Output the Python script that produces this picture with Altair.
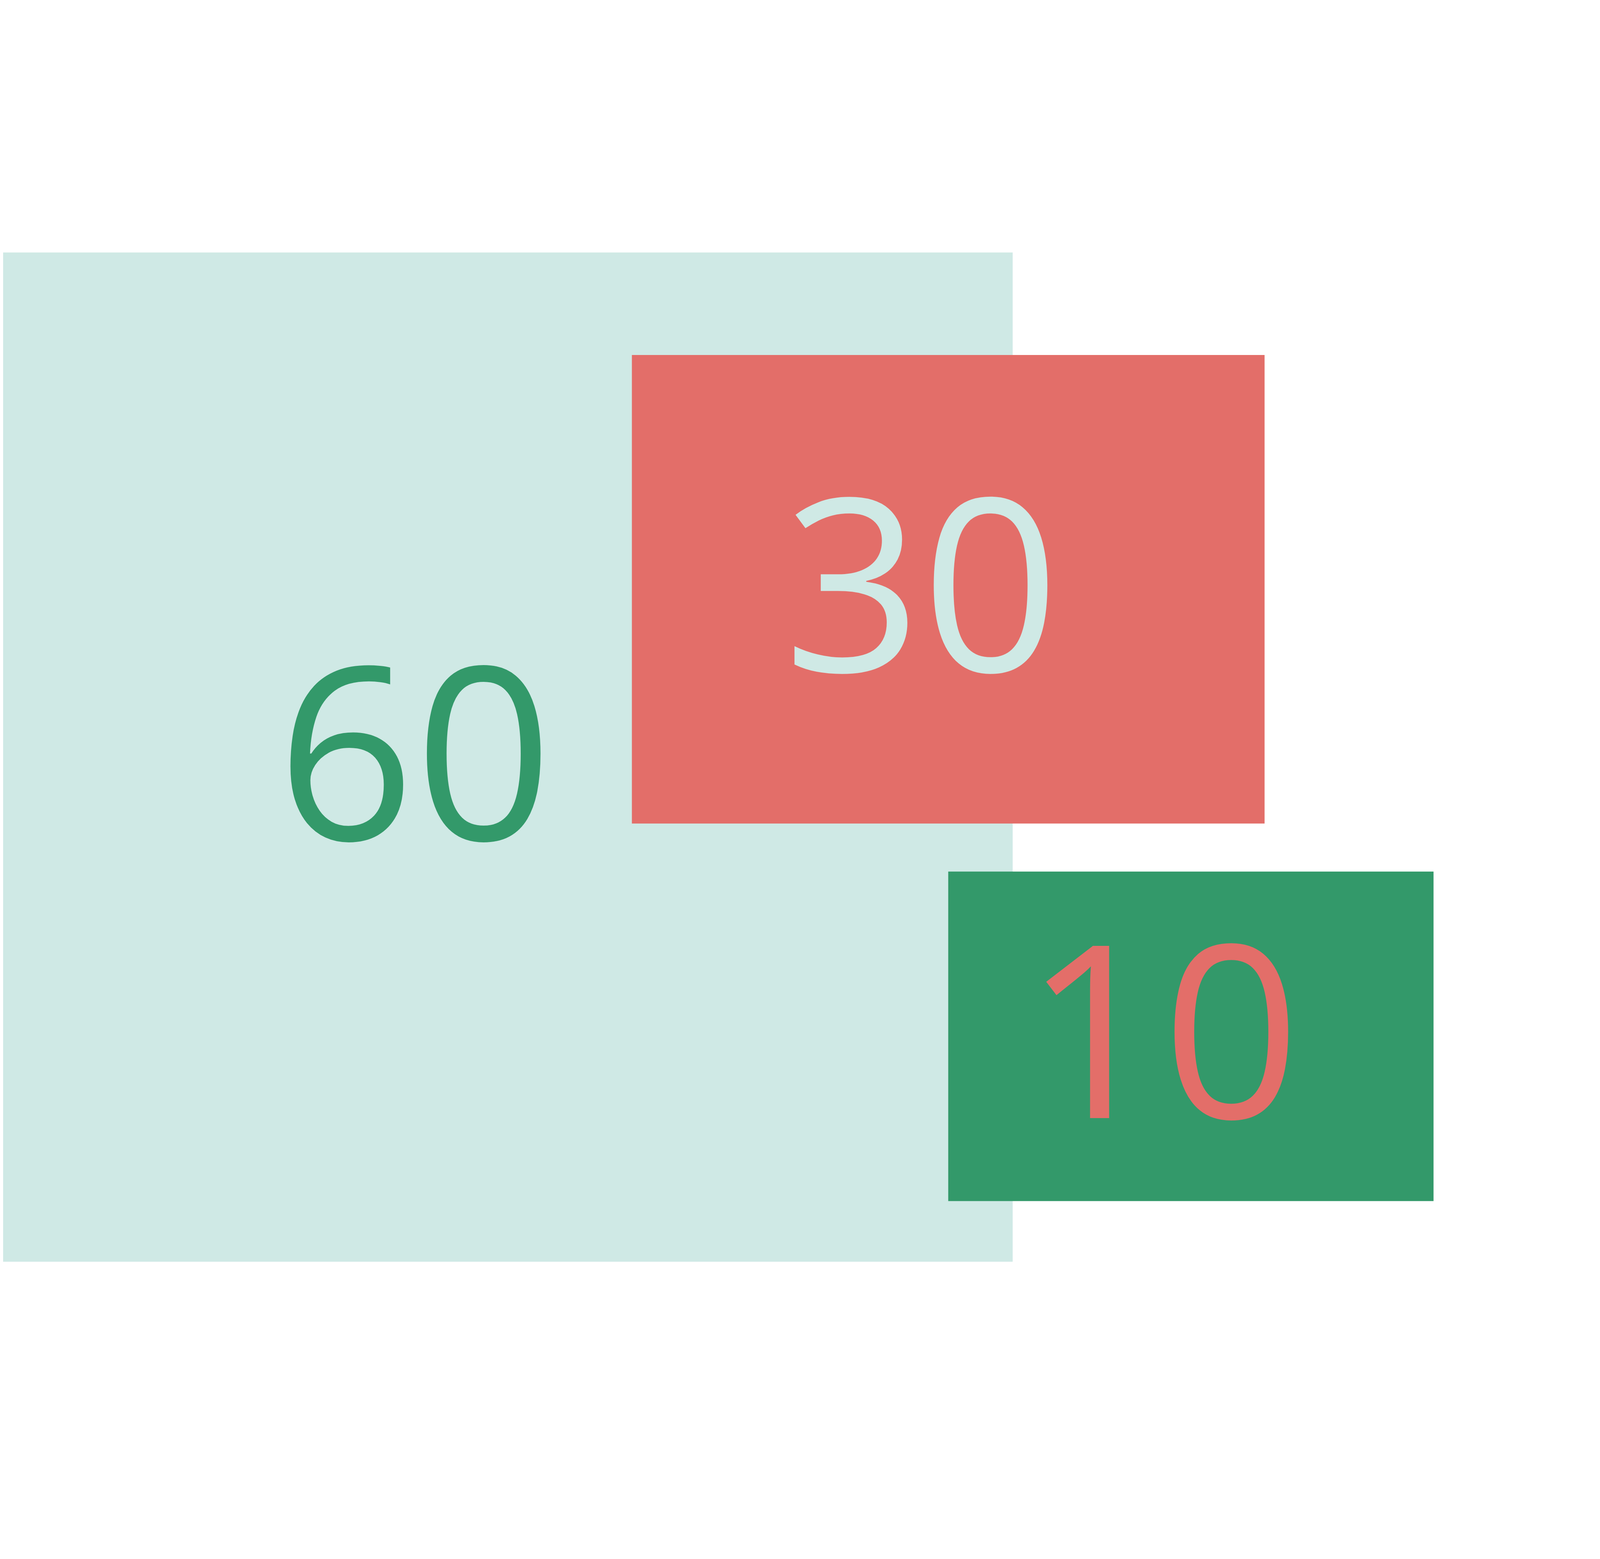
import altair as alt
import pandas as pd

# boxes, in units where the big square is 100 x 100 (y counts downwards)
labels = ["60", "30", "10"]
values = [60, 30, 10]
box_x0 = [0, 62.36, 93.63]
box_x1 = [100, 124.9, 141.6]
box_y0 = [0, 10.35, 61.42]
box_y1 = [100, 56.67, 94.0]
label_x = [40.9, 91.0, 114.8]
label_y = [58.3, 41.65, 85.8]

fill_colors = ["#cfe9e5", "#e36e69", "#33996a"]
text_colors = ["#33996a", "#cfe9e5", "#e36e69"]

df = pd.DataFrame({
    "label": labels,
    "value": values,
    "x0": box_x0,
    "x1": box_x1,
    "y0": box_y0,
    "y1": box_y1,
    "lx": label_x,
    "ly": label_y,
})

# 1 unit = 38.15 px; shift by the 8px page margin
px = 38.15
W, H = 6010, 3976
x_dom = [8 / px, 8 / px + W / px]
y_dom = [8 / px, 8 / px + H / px]

xs = alt.Scale(domain=x_dom, zero=False, nice=False)
ys = alt.Scale(domain=y_dom, zero=False, nice=False, reverse=True)

boxes = alt.Chart(df).mark_rect(clip=True).encode(
    x=alt.X("x0:Q", scale=xs, axis=None),
    x2="x1:Q",
    y=alt.Y("y0:Q", scale=ys, axis=None),
    y2="y1:Q",
    color=alt.Color("label:N", scale=alt.Scale(domain=labels, range=fill_colors), legend=None),
)

text = alt.Chart(df).mark_text(
    font="Open Sans", fontSize=910, align="center", baseline="alphabetic"
).encode(
    x=alt.X("lx:Q", scale=xs, axis=None),
    y=alt.Y("ly:Q", scale=ys, axis=None),
    text="label:N",
    color=alt.Color("label:N", scale=alt.Scale(domain=labels, range=text_colors), legend=None),
)

chart = alt.layer(boxes, text).resolve_scale(color="independent").properties(
    width=W, height=H, padding=0, autosize=alt.AutoSizeParams(type="none")
).configure_view(stroke=None)

chart.save("out.html", embed_options={"renderer": "svg", "actions": False})
